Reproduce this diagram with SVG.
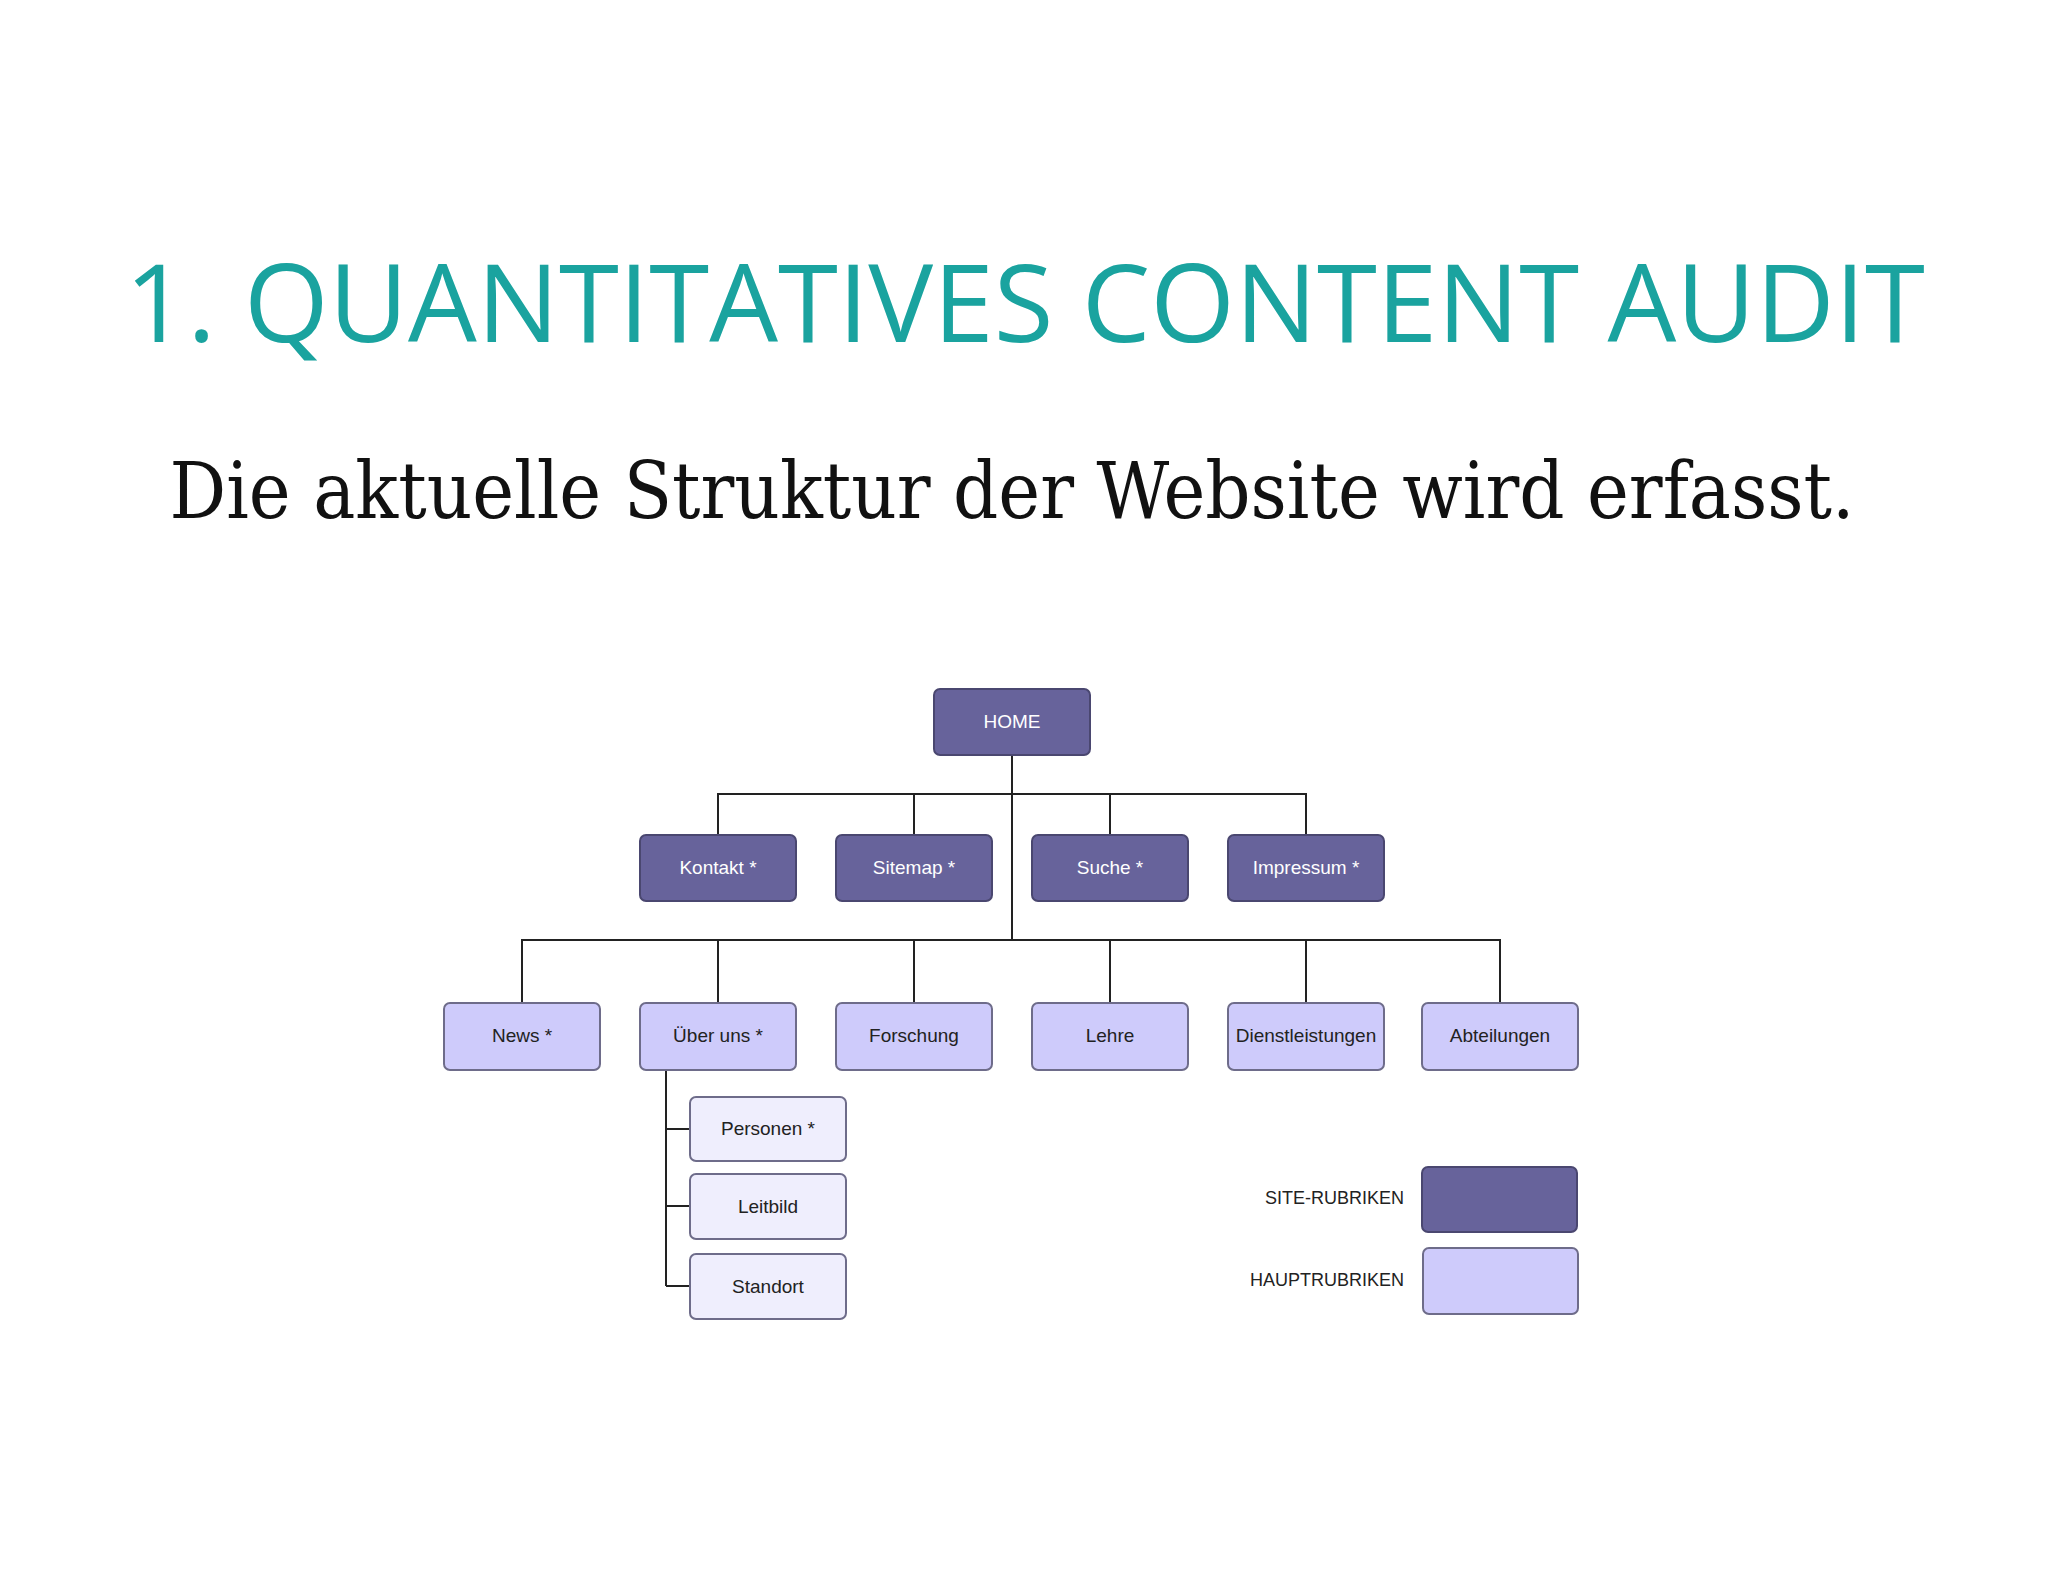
<svg xmlns="http://www.w3.org/2000/svg" width="2048" height="1582" viewBox="0 0 2048 1582">
<style>
.t{font-family:"Liberation Sans Narrow","Liberation Sans",sans-serif;font-size:19px;text-anchor:middle}
.d rect{fill:#67639b;stroke:#4a4770;stroke-width:2}
.d text{fill:#fff}
.l rect{fill:#cecbfb;stroke:#6e6c8a;stroke-width:2}
.c rect{fill:#efeefd;stroke:#6e6c8a;stroke-width:2}
.l text,.c text{fill:#222}
.lg{font-family:"Liberation Sans Narrow","Liberation Sans",sans-serif;font-size:18px;text-anchor:end;fill:#222}
#connectors path{fill:none;stroke:#222;stroke-width:2}
</style>
<rect width="2048" height="1582" fill="#fff"/>
<text x="1025" y="342" font-family="Open Sans, sans-serif" font-size="108" fill="#1aa39f" text-anchor="middle" textLength="1800" lengthAdjust="spacingAndGlyphs">1. QUANTITATIVES CONTENT AUDIT</text>
<text x="1012" y="518" font-family="DejaVu Serif, serif" font-size="78" fill="#111" text-anchor="middle" textLength="1685" lengthAdjust="spacingAndGlyphs">Die aktuelle Struktur der Website wird erfasst.</text>
<g id="connectors">
<path d="M1012 755V940M718 835V794H1306V835M914 794V835M1110 794V835M522 1003V940H1500V1003M718 940V1003M914 940V1003M1110 940V1003M1306 940V1003"/>
<path d="M666 1070V1286M666 1129H690M666 1206H690M666 1286H690"/>
</g>
<g id="home" class="d t"><rect x="934" y="689" width="156" height="66" rx="6"/><text x="1012" y="728">HOME</text></g>
<g id="kontakt" class="d t"><rect x="640" y="835" width="156" height="66" rx="6"/><text x="718" y="874">Kontakt *</text></g>
<g id="sitemap" class="d t"><rect x="836" y="835" width="156" height="66" rx="6"/><text x="914" y="874">Sitemap *</text></g>
<g id="suche" class="d t"><rect x="1032" y="835" width="156" height="66" rx="6"/><text x="1110" y="874">Suche *</text></g>
<g id="impressum" class="d t"><rect x="1228" y="835" width="156" height="66" rx="6"/><text x="1306" y="874">Impressum *</text></g>
<g id="news" class="l t"><rect x="444" y="1003" width="156" height="67" rx="6"/><text x="522" y="1042">News *</text></g>
<g id="ueberuns" class="l t"><rect x="640" y="1003" width="156" height="67" rx="6"/><text x="718" y="1042">Über uns *</text></g>
<g id="forschung" class="l t"><rect x="836" y="1003" width="156" height="67" rx="6"/><text x="914" y="1042">Forschung</text></g>
<g id="lehre" class="l t"><rect x="1032" y="1003" width="156" height="67" rx="6"/><text x="1110" y="1042">Lehre</text></g>
<g id="dienst" class="l t"><rect x="1228" y="1003" width="156" height="67" rx="6"/><text x="1306" y="1042">Dienstleistungen</text></g>
<g id="abteilungen" class="l t"><rect x="1422" y="1003" width="156" height="67" rx="6"/><text x="1500" y="1042">Abteilungen</text></g>
<g id="personen" class="c t"><rect x="690" y="1097" width="156" height="64" rx="6"/><text x="768" y="1135">Personen *</text></g>
<g id="leitbild" class="c t"><rect x="690" y="1174" width="156" height="65" rx="6"/><text x="768" y="1213">Leitbild</text></g>
<g id="standort" class="c t"><rect x="690" y="1254" width="156" height="65" rx="6"/><text x="768" y="1293">Standort</text></g>
<g id="legend-site" class="d"><rect x="1422" y="1167" width="155" height="65" rx="6"/><text class="lg" x="1404" y="1204" style="fill:#222">SITE-RUBRIKEN</text></g>
<g id="legend-haupt" class="l"><rect x="1423" y="1248" width="155" height="66" rx="6"/><text class="lg" x="1404" y="1286">HAUPTRUBRIKEN</text></g>
</svg>
